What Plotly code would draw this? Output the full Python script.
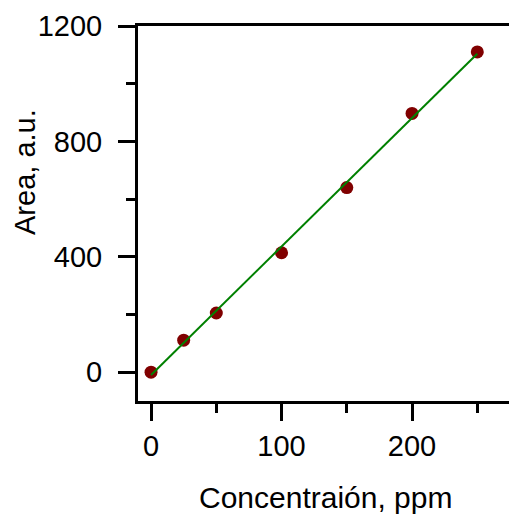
import plotly.graph_objects as go

conc = [0, 25, 50, 100, 150, 200, 250]
area = [0, 111, 205, 414, 640, 897, 1110]
fit_x = [0, 250]
fit_y = [-10, 1104]

x_ticks = [0, 100, 200]
y_ticks = [0, 400, 800, 1200]

font = "Liberation Sans, Arial, sans-serif"

fig = go.Figure()
fig.add_trace(go.Scatter(x=conc, y=area, mode="markers",
                         marker=dict(color="#800000", size=13, line=dict(width=0)),
                         showlegend=False))
fig.add_trace(go.Scatter(x=fit_x, y=fit_y, mode="lines",
                         line=dict(color="#008000", width=2), showlegend=False))

fig.update_layout(
    width=509, height=517,
    margin=dict(l=138, r=0, t=26, b=116),
    paper_bgcolor="white", plot_bgcolor="white",
    font=dict(family=font, size=29, color="black"),
    xaxis=dict(range=[-10, 274.3], tickvals=x_ticks, ticks="outside", ticklen=17,
               tickwidth=3, tickcolor="black", showline=True, linewidth=3,
               linecolor="black", mirror=True, showgrid=False, zeroline=False,
               ticklabelstandoff=0, tickfont=dict(size=29),
               minor=dict(tickvals=[50, 150, 250], ticks="outside", ticklen=9,
                          tickwidth=3, tickcolor="black", showgrid=False)),
    yaxis=dict(range=[-100, 1200], tickvals=y_ticks, ticks="outside", ticklen=17,
               tickwidth=3, tickcolor="black", showline=True, linewidth=3,
               linecolor="black", mirror=False, showgrid=False, zeroline=False,
               ticklabelstandoff=10, tickfont=dict(size=29),
               minor=dict(tickvals=[200, 600, 1000], ticks="outside", ticklen=9,
                          tickwidth=3, tickcolor="black", showgrid=False)),
    annotations=[
        dict(text="Area, a.u.", xref="paper", yref="paper", x=-0.3046, y=0.6107,
             textangle=-90, showarrow=False, font=dict(size=29),
             xanchor="center", yanchor="middle"),
        dict(text="Concentraión, ppm", xref="paper", yref="paper", x=0.505, y=-0.256,
             showarrow=False, font=dict(size=30), xanchor="center", yanchor="middle"),
    ],
)

fig.write_html("out.html")
